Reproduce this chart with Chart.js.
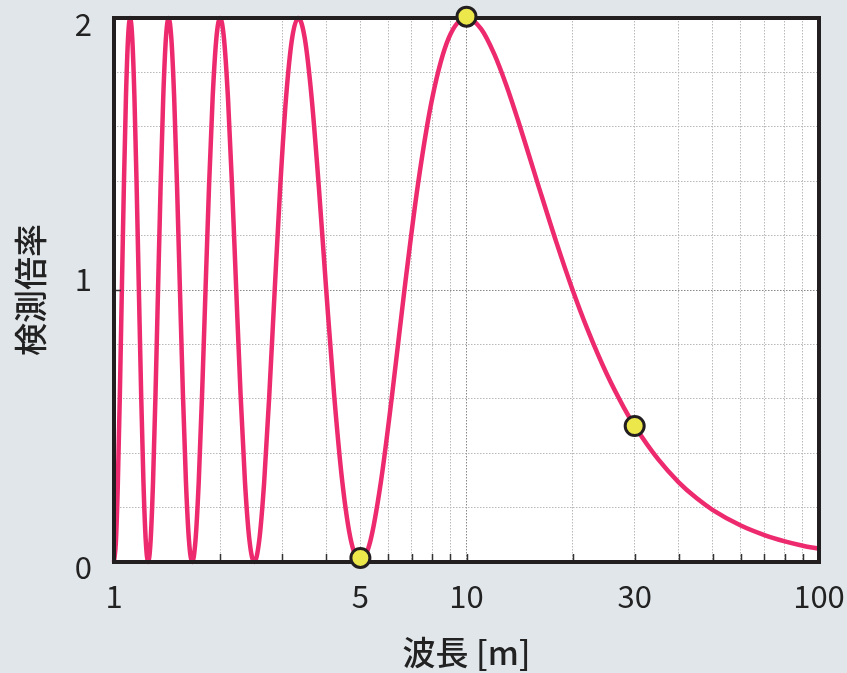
<!DOCTYPE html>
<html>
<head>
<meta charset="utf-8">
<script src="https://cdn.jsdelivr.net/npm/chart.js@4/dist/chart.umd.min.js"></script>
<style>
  html, body { margin: 0; padding: 0; background: #e1e6ea; }
  #wrap { width: 847px; height: 673px; }
</style>
</head>
<body>
<div id="wrap"><canvas id="c" width="847" height="673"></canvas></div>
<script>
// Wavelength [m] sampled along the curve
const wavelengths = [
  1.0000, 1.0127, 1.0256, 1.0390, 1.0526, 1.0667, 1.0811, 1.0959, 1.1111,
  1.1268, 1.1429, 1.1594, 1.1765, 1.1940, 1.2121, 1.2308, 1.2500,
  1.2698, 1.2903, 1.3115, 1.3333, 1.3559, 1.3793, 1.4035, 1.4286,
  1.4545, 1.4815, 1.5094, 1.5385, 1.5686, 1.6000, 1.6327, 1.6667,
  1.7021, 1.7391, 1.7778, 1.8182, 1.8605, 1.9048, 1.9512, 2.0000,
  2.0513, 2.1053, 2.1622, 2.2222, 2.2857, 2.3529, 2.4242, 2.5000,
  2.5806, 2.6667, 2.7586, 2.8571, 2.9630, 3.0769, 3.2000, 3.3333,
  3.4783, 3.6364, 3.8095, 4.0000, 4.2105, 4.4444, 4.7059, 5.0000,
  5.3333, 5.7143, 6.1538, 6.6667, 7.2727, 8.0000, 8.8889, 10.000,
  11, 12, 13, 14, 15, 16, 18, 20, 22, 25, 28, 30, 35, 40, 45, 50, 60, 70, 80, 90, 100
];
// Detection ratio (検測倍率)
const ratios = [
  0, 0.076, 0.293, 0.617, 1, 1.383, 1.707, 1.924, 2,
  1.924, 1.707, 1.383, 1, 0.617, 0.293, 0.076, 0,
  0.076, 0.293, 0.617, 1, 1.383, 1.707, 1.924, 2,
  1.924, 1.707, 1.383, 1, 0.617, 0.293, 0.076, 0,
  0.076, 0.293, 0.617, 1, 1.383, 1.707, 1.924, 2,
  1.924, 1.707, 1.383, 1, 0.617, 0.293, 0.076, 0,
  0.076, 0.293, 0.617, 1, 1.383, 1.707, 1.924, 2,
  1.924, 1.707, 1.383, 1, 0.617, 0.293, 0.076, 0,
  0.076, 0.293, 0.617, 1, 1.383, 1.707, 1.924, 2,
  1.960, 1.866, 1.749, 1.624, 1.5, 1.383, 1.174, 1.0, 0.858, 0.691, 0.566, 0.5,
  0.377, 0.293, 0.234, 0.191, 0.134, 0.099, 0.076, 0.060, 0.049
];
// Highlighted points
const markerWavelengths = [5, 10, 30];
const markerRatios = [0.015, 2.005, 0.5];
// Axis ticks
const xTickValues = [1, 2, 3, 4, 5, 6, 7, 8, 9, 10, 20, 30, 40, 50, 60, 70, 80, 90, 100];
const xLabelValues = [1, 5, 10, 30, 100];
const yTickValues = [0, 0.2, 0.4, 0.6, 0.8, 1, 1.2, 1.4, 1.6, 1.8, 2];
const yLabelValues = [0, 1, 2];
const xTitle = '波長 [m]';
const yTitle = '検測倍率';

const FONT = "'Noto Sans CJK JP', 'Noto Sans', sans-serif";
const INK = '#231f20';

const framePlugin = {
  id: 'frame',
  beforeDraw(chart) {
    const { ctx, chartArea: a } = chart;
    ctx.save();
    ctx.fillStyle = '#e1e6ea';
    ctx.fillRect(0, 0, chart.width, chart.height);
    ctx.fillStyle = '#ffffff';
    ctx.fillRect(a.left, a.top, a.right - a.left, a.bottom - a.top);
    ctx.restore();
  },
  afterDatasetDraw(chart, args) {
    if (args.index !== 0) return;
    const { ctx, chartArea: a, scales } = chart;
    ctx.save();
    // inward tick marks on bottom axis
    ctx.strokeStyle = '#333';
    ctx.lineWidth = 1.5;
    xTickValues.forEach(v => {
      if (v === 1 || v === 100) return;
      const px = Math.round(scales.x.getPixelForValue(v)) + 0.5;
      ctx.beginPath();
      ctx.moveTo(px, a.bottom);
      ctx.lineTo(px, a.bottom - 8);
      ctx.stroke();
    });
    // inward tick at y = 1
    const py = Math.round(scales.y.getPixelForValue(1)) + 0.5;
    ctx.beginPath();
    ctx.moveTo(a.left, py);
    ctx.lineTo(a.left + 7, py);
    ctx.stroke();
    // frame
    ctx.strokeStyle = INK;
    ctx.lineWidth = 4;
    ctx.strokeRect(a.left, a.top, a.right - a.left, a.bottom - a.top);
    ctx.restore();
  },
  afterDraw(chart) {
    const { ctx, chartArea: a, scales } = chart;
    const yOffsets = { 0: 5, 1: -11, 2: 6 };
    ctx.save();
    ctx.fillStyle = '#222';
    ctx.font = `31px ${FONT}`;
    ctx.textAlign = 'right';
    ctx.textBaseline = 'middle';
    yLabelValues.forEach(v => {
      ctx.fillText(String(v), a.left - 22, scales.y.getPixelForValue(v) + (yOffsets[v] || 0));
    });
    ctx.restore();
  }
};

new Chart(document.getElementById('c'), {
  type: 'line',
  data: {
    datasets: [
      {
        data: wavelengths.map((x, i) => ({ x, y: ratios[i] })),
        borderColor: '#ee2a6e',
        borderWidth: 4.5,
        pointRadius: 0,
        cubicInterpolationMode: 'monotone',
        fill: false,
        clip: false,
        order: 1
      },
      {
        data: markerWavelengths.map((x, i) => ({ x, y: markerRatios[i] })),
        showLine: false,
        pointRadius: 9.5,
        pointBackgroundColor: '#ece84c',
        pointBorderColor: INK,
        pointBorderWidth: 3,
        clip: false,
        order: 0
      }
    ]
  },
  options: {
    responsive: false,
    animation: false,
    devicePixelRatio: 1,
    layout: { padding: { left: 0, top: 18, right: 28, bottom: 0 } },
    plugins: { legend: { display: false }, tooltip: { enabled: false } },
    scales: {
      x: {
        type: 'logarithmic',
        min: 1,
        max: 100,
        afterBuildTicks(scale) { scale.ticks = xTickValues.map(v => ({ value: v })); },
        afterFit(scale) { scale.height = 111; scale.paddingLeft = 0; scale.paddingRight = 0; },
        grid: {
          drawTicks: false,
          lineWidth: 1,
          color: ctx => (ctx.tick && ctx.tick.value === 10) ? '#888' : '#b9b9b9'
        },
        border: { display: false, dash: [1.5, 1.5] },
        ticks: {
          autoSkip: false,
          maxRotation: 0,
          padding: 16,
          color: '#222',
          font: { family: FONT, size: 31, lineHeight: 1.2 },
          callback: v => xLabelValues.includes(v) ? String(v) : ''
        },
        title: {
          display: true,
          text: xTitle,
          color: '#222',
          font: { family: FONT, size: 33, weight: '500', lineHeight: 1.2 },
          padding: { top: 0, bottom: 1 }
        }
      },
      y: {
        type: 'linear',
        min: 0,
        max: 2,
        afterBuildTicks(scale) { scale.ticks = yTickValues.map(v => ({ value: v })); },
        afterFit(scale) { scale.width = 114; scale.paddingTop = 0; scale.paddingBottom = 0; },
        grid: {
          drawTicks: false,
          lineWidth: 1,
          color: ctx => (ctx.tick && Math.abs(ctx.tick.value - 1) < 1e-9) ? '#888' : '#b9b9b9'
        },
        border: { display: false, dash: [1.5, 1.5] },
        ticks: { display: false },
        title: {
          display: true,
          text: yTitle,
          color: '#222',
          font: { family: FONT, size: 33, weight: '500', lineHeight: 1.2 },
          padding: { top: 11, bottom: 0 }
        }
      }
    }
  },
  plugins: [framePlugin]
});
</script>
</body>
</html>
